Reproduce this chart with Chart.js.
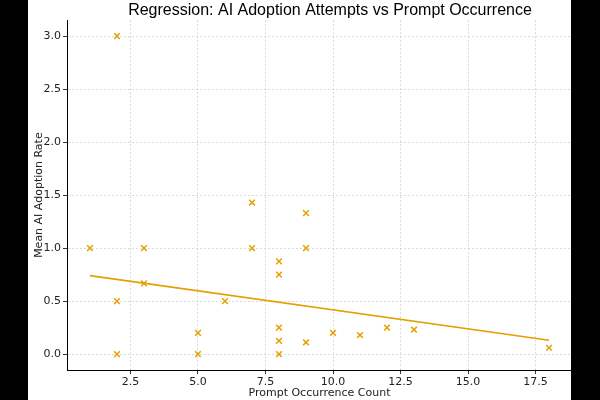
<!DOCTYPE html>
<html>
<head>
<meta charset="utf-8">
<script src="https://cdn.jsdelivr.net/npm/chart.js@4/dist/chart.umd.min.js"></script>
<style>
    html, body { margin: 0; padding: 0; background: #000; overflow: hidden; }
    #wrap { position: absolute; left: 0; top: 0; width: 660px; height: 400px; background: #fff; }
    .bar { position: absolute; top: 0; height: 400px; background: #000; }
</style>
</head>
<body>
<div id="wrap"><canvas id="regChart" width="660" height="400"></canvas></div>
<div class="bar" style="left:0;width:28px"></div>
<div class="bar" style="left:571px;width:29px"></div>
<script>
// prompt occurrence count vs mean AI adoption rate
const occurrences = [1, 2, 2, 2, 3, 3, 5, 5, 6, 7, 7, 8, 8, 8, 8, 8, 9, 9, 9, 10, 11, 12, 13, 18];
const adoptionRates = [1.0, 3.0, 0.5, 0.0, 1.0, 0.667, 0.2, 0.0, 0.5, 1.43, 1.0, 0.875, 0.75, 0.25, 0.125, 0.0, 1.33, 1.0, 0.11, 0.2, 0.18, 0.25, 0.23, 0.06];

// fitted regression line end points
const fitX = [1, 18];
const fitY = [0.74, 0.13];

const xTicks = [2.5, 5.0, 7.5, 10.0, 12.5, 15.0, 17.5];
const yTicks = [0.0, 0.5, 1.0, 1.5, 2.0, 2.5, 3.0];

const orange = "#e69f00";
const tickFont = { family: "DejaVu Sans", size: 11 };

const gridStyle = {
    color: "#d0d0d0",
    tickColor: "#000",
    tickBorderDash: [],
    tickLength: 4,
    lineWidth: 0.8
};

document.addEventListener("DOMContentLoaded", () => {
    const ctx = document.getElementById("regChart").getContext("2d");

    new Chart(ctx, {
        type: "scatter",
        data: {
            datasets: [
                {
                    label: "Data",
                    data: occurrences.map((x, i) => ({ x: x, y: adoptionRates[i] })),
                    pointStyle: "crossRot",
                    pointRadius: 4,
                    borderColor: orange,
                    backgroundColor: orange,
                    borderWidth: 1.5
                },
                {
                    type: "line",
                    label: "Fit",
                    data: fitX.map((x, i) => ({ x: x, y: fitY[i] })),
                    borderColor: orange,
                    borderWidth: 1.6,
                    pointRadius: 0,
                    fill: false
                }
            ]
        },
        options: {
            responsive: false,
            animation: false,
            layout: { padding: 0 },
            plugins: {
                legend: { display: false },
                tooltip: { enabled: false },
                title: {
                    display: true,
                    text: "Regression: AI Adoption Attempts vs Prompt Occurrence",
                    color: "#000",
                    font: { family: "Liberation Sans", size: 16, weight: "normal" },
                    padding: { top: 1, bottom: 0 }
                }
            },
            scales: {
                x: {
                    type: "linear",
                    min: 0.15,
                    max: 18.85,
                    afterBuildTicks: s => { s.ticks = xTicks.map(v => ({ value: v })); },
                    afterFit: s => { s.height = 30; },
                    border: { display: true, color: "#000", width: 1, dash: [2, 2] },
                    grid: gridStyle,
                    ticks: {
                        color: "#222",
                        font: tickFont,
                        padding: 2,
                        maxRotation: 0,
                        callback: v => v.toFixed(1)
                    },
                    title: {
                        display: true,
                        text: "Prompt Occurrence Count",
                        color: "#222",
                        font: tickFont,
                        padding: 0
                    }
                },
                y: {
                    min: -0.15,
                    max: 3.15,
                    afterBuildTicks: s => { s.ticks = yTicks.map(v => ({ value: v })); },
                    afterFit: s => { s.width = 67; },
                    border: { display: true, color: "#000", width: 1, dash: [2, 2] },
                    grid: gridStyle,
                    ticks: {
                        color: "#222",
                        font: tickFont,
                        padding: 2,
                        callback: v => v.toFixed(1)
                    },
                    title: {
                        display: true,
                        text: "Mean AI Adoption Rate",
                        color: "#222",
                        font: tickFont,
                        padding: { top: 33, bottom: 0 }
                    }
                },
                // empty right-hand axis, only reserves room so the title centres like the original
                yRight: {
                    position: "right",
                    display: true,
                    afterFit: s => { s.width = 88; },
                    grid: { display: false },
                    border: { display: false },
                    ticks: { display: false }
                }
            }
        }
    });
});
</script>
</body>
</html>
